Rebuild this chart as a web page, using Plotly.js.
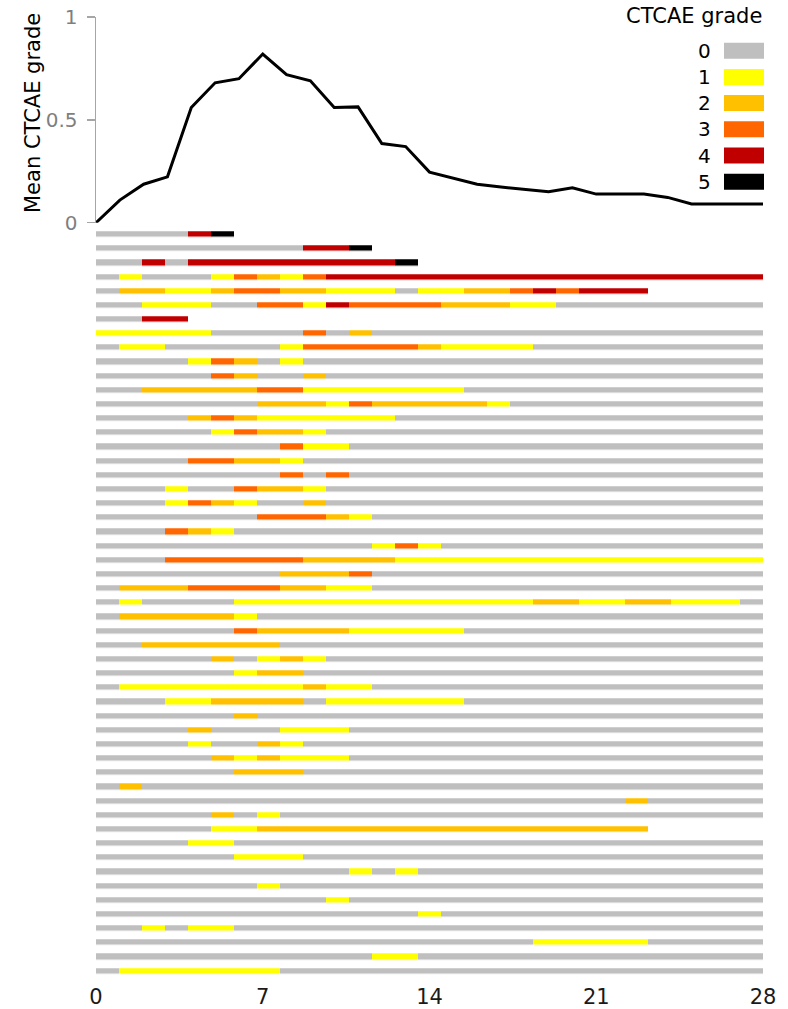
<!DOCTYPE html>
<html>
<head>
<meta charset="utf-8">
<script src="https://cdn.plot.ly/plotly-3.0.1.min.js"></script>
<style>html,body{margin:0;padding:0;background:#fff;}#chart{width:788px;height:1009px;}</style>
</head>
<body>
<div id="chart"></div>
<script>
// ---- Data ----
// Days of follow-up (top panel x values)
const days = [0,1,2,3,4,5,6,7,8,9,10,11,12,13,14,15,16,17,18,19,20,21,22,23,24,25,26,27,28];
// Mean CTCAE grade per day (top panel)
const meanGrade = [0,0.11,0.187,0.223,0.56,0.68,0.70,0.82,0.72,0.69,0.56,0.563,0.385,0.37,0.246,0.217,0.187,0.173,0.163,0.15,0.17,0.139,0.139,0.139,0.123,0.091,0.091,0.091,0.091];
// Daily CTCAE grade per patient: one character per day (day 0 .. day 28),
// grouped by week for readability; shorter rows end where follow-up ended.
const patientGrades = [
  "000045",
  "0000000 00445",
  "0040444 4444445",
  "0100013 2134444 4444444 4444444 4",
  "0221123 3221110 1122343 444",
  "0011100 3314333 3222110 0000000 0",
  "0044",
  "1111100 0030200 0000000 0000000 0",
  "0110000 0133333 2111100 0000000 0",
  "0000132 0100000 0000000 0000000 0",
  "0000032 0020000 0000000 0000000 0",
  "0022222 3311111 1100000 0000000 0",
  "0000000 2221322 2221000 0000000 0",
  "0000232 1111110 0000000 0000000 0",
  "0000013 2210000 0000000 0000000 0",
  "0000000 0311000 0000000 0000000 0",
  "0000332 2100000 0000000 0000000 0",
  "0000000 0303000 0000000 0000000 0",
  "0001003 2210000 0000000 0000000 0",
  "0001321 0020000 0000000 0000000 0",
  "0000000 3332100 0000000 0000000 0",
  "0003210 0000000 0000000 0000000 0",
  "0000000 0000013 1000000 0000000 0",
  "0003333 3322221 1111111 1111111 1",
  "0000000 0222300 0000000 0000000 0",
  "0222333 3221100 0000000 0000000 0",
  "0100001 1111111 1111122 1122111 0",
  "0222221 0000000 0000000 0000000 0",
  "0000003 2222111 1100000 0000000 0",
  "0022222 2000000 0000000 0000000 0",
  "0000020 1210000 0000000 0000000 0",
  "0000001 2200000 0000000 0000000 0",
  "0111111 1121100 0000000 0000000 0",
  "0001122 2201111 1100000 0000000 0",
  "0000002 0000000 0000000 0000000 0",
  "0000200 0111000 0000000 0000000 0",
  "0000100 2100000 0000000 0000000 0",
  "0000021 2111000 0000000 0000000 0",
  "0000002 2200000 0000000 0000000 0",
  "0200000 0000000 0000000 0000000 0",
  "0000000 0000000 0000000 0020000 0",
  "0000020 1000000 0000000 0000000 0",
  "0000011 2222222 2222222 222",
  "0000110 0000000 0000000 0000000 0",
  "0000001 1100000 0000000 0000000 0",
  "0000000 0000101 0000000 0000000 0",
  "0000000 1000000 0000000 0000000 0",
  "0000000 0001000 0000000 0000000 0",
  "0000000 0000000 1000000 0000000 0",
  "0010110 0000000 0000000 0000000 0",
  "0000000 0000000 0000011 1110000 0",
  "0000000 0000011 0000000 0000000 0",
  "0111111 1000000 0000000 0000000 0"
];
const gradeLabels = ["0","1","2","3","4","5"];
const gradeColors = ["#BFBFBF","#FFFF00","#FFC000","#FF6600","#C00000","#000000"];
const xTicks = [0,7,14,21,28];
const yTicks = [0,0.5,1];

// ---- Build ----
const nDays = days.length; // 29 daily cells
const zRows = patientGrades.map(s => {
  const g = s.replace(/\s/g,'').split('').map(Number);
  const row = [];
  for (let i = 0; i < nDays; i++) row.push(i < g.length ? g[i] : null);
  return row;
});
const rowIdx = zRows.map((_, i) => i);
const xMax = days[days.length - 1];
const cellEdges = [];
for (let i = 0; i <= nDays; i++) cellEdges.push(i * xMax / nDays);

const n = gradeColors.length;
const colorscale = [];
gradeColors.forEach((c, i) => { colorscale.push([i / n, c]); colorscale.push([(i + 1) / n, c]); });

const lineTrace = {
  type: 'scatter', mode: 'lines', x: days, y: meanGrade, xaxis: 'x', yaxis: 'y',
  line: {color: '#000', width: 3}, cliponaxis: false, hoverinfo: 'skip'
};
const heat = {
  type: 'heatmap', x: cellEdges, y: rowIdx, z: zRows, xaxis: 'x', yaxis: 'y2',
  zmin: -0.5, zmax: n - 0.5, colorscale: colorscale, showscale: false,
  ygap: 8.6, xgap: 0, hoverinfo: 'skip'
};

// Plot-area geometry (pixels) for legend placement
const W = 788, H = 1009, M = {l: 96, r: 25, t: 17, b: 31};
const pw = W - M.l - M.r, ph = H - M.t - M.b;
const px2x = p => (p - M.l) / pw;
const px2y = p => (H - M.b - p) / ph;

const shapes = [], annotations = [];
gradeLabels.forEach((lab, i) => {
  const cy = 50.7 + 26.2 * i;
  shapes.push({type: 'rect', xref: 'paper', yref: 'paper',
    x0: px2x(724), x1: px2x(764), y0: px2y(cy + 8), y1: px2y(cy - 8),
    fillcolor: gradeColors[i], line: {width: 0}});
  annotations.push({xref: 'paper', yref: 'paper', x: px2x(713), y: px2y(cy),
    xanchor: 'right', yanchor: 'middle', text: lab, showarrow: false,
    font: {size: 20, color: '#000'}});
});
annotations.push({xref: 'paper', yref: 'paper', x: px2x(764), y: px2y(16),
  xanchor: 'right', yanchor: 'middle', text: 'CTCAE grade', showarrow: false,
  font: {size: 21, color: '#000'}});
// y-axis title of the top panel
annotations.push({xref: 'paper', yref: 'paper', x: px2x(33), y: px2y(113),
  xanchor: 'center', yanchor: 'middle', textangle: -90, text: 'Mean CTCAE grade',
  showarrow: false, font: {size: 21, color: '#000'}});

const layout = {
  width: W, height: H, margin: M,
  paper_bgcolor: '#fff', plot_bgcolor: '#fff', showlegend: false,
  font: {family: 'DejaVu Sans, Verdana, sans-serif', size: 20, color: '#000'},
  xaxis: {domain: [0, 1], range: [0, xMax], anchor: 'y2', tickvals: xTicks,
    ticktext: xTicks.map(String), ticks: '', showline: false, showgrid: false,
    zeroline: false, tickfont: {size: 21, color: '#1a1a1a'}, ticklabelstandoff: 4},
  yaxis: {domain: [px2y(222.7), 1], range: [0, 1], tickvals: yTicks,
    ticktext: yTicks.map(String), ticks: 'outside', ticklen: 8, tickcolor: '#A6A6A6',
    tickwidth: 1.5, showline: true, linecolor: '#A6A6A6', linewidth: 1.5,
    showgrid: false, zeroline: false, tickfont: {size: 20, color: '#7F7F7F'},
    ticklabelstandoff: 5},
  yaxis2: {domain: [0, px2y(227.2)], autorange: 'reversed', visible: false, anchor: 'x'},
  shapes: shapes, annotations: annotations
};

Plotly.newPlot('chart', [heat, lineTrace], layout, {staticPlot: true, displayModeBar: false});
</script>
</body>
</html>
